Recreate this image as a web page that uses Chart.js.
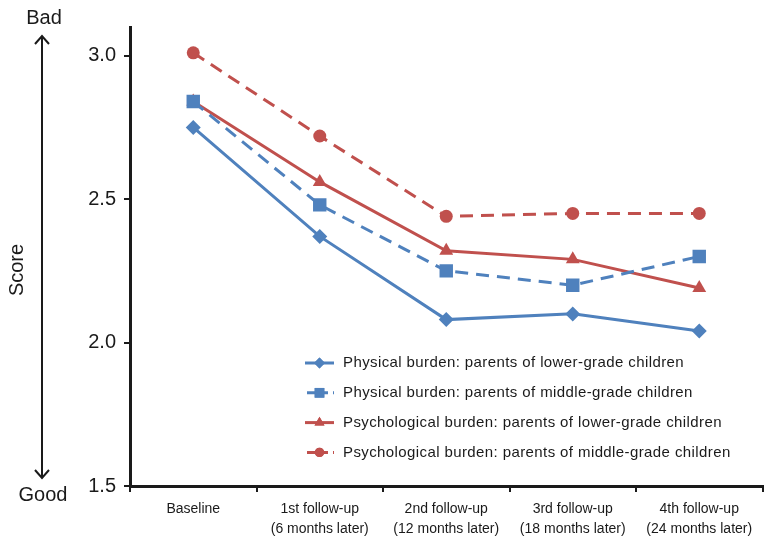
<!DOCTYPE html>
<html>
<head>
<meta charset="utf-8">
<script src="https://cdn.jsdelivr.net/npm/chart.js@4"></script>
<style>
  html, body { margin: 0; padding: 0; background: #fff; }
  #wrap { width: 772px; height: 540px; }
</style>
</head>
<body>
<div id="wrap"><canvas id="chart" width="772" height="540"></canvas></div>
<script>
// categories (x axis, two lines each)
var categories = [
    ["Baseline"],
    ["1st follow-up", "(6 months later)"],
    ["2nd follow-up", "(12 months later)"],
    ["3rd follow-up", "(18 months later)"],
    ["4th follow-up", "(24 months later)"]
];
var yTicks = [1.5, 2.0, 2.5, 3.0];

// series
var physLower = [2.75, 2.37, 2.08, 2.10, 2.04];
var physMiddle = [2.84, 2.48, 2.25, 2.20, 2.30];
var psyLower = [2.84, 2.56, 2.32, 2.29, 2.19];
var psyMiddle = [3.01, 2.72, 2.44, 2.45, 2.45];

var seriesNames = [
    "Physical burden: parents of lower-grade children",
    "Physical burden: parents of middle-grade children",
    "Psychological burden: parents of lower-grade children",
    "Psychological burden: parents of middle-grade children"
];

var BLUE = '#4F81BD';
var RED = '#C0504D';
var FONT = '"Liberation Sans", Arial, Helvetica, sans-serif';
var INK = '#1a1a1a';

function serie(label, data, color, dashed, style, r) {
    return {
        label: label,
        data: data,
        borderColor: color,
        backgroundColor: color,
        pointBackgroundColor: color,
        pointBorderColor: color,
        borderWidth: 3,
        borderDash: dashed ? [13, 8] : [],
        pointStyle: style,
        pointRadius: r,
        pointHoverRadius: r,
        pointBorderWidth: 0,
        tension: 0,
        fill: false
    };
}

// legend inside the plot, drawn from the datasets
var innerLegend = {
    id: 'innerLegend',
    afterDraw: function(chart) {
        var ctx = chart.ctx;
        var x0 = 305, y0 = 363, step = 29.8;
        ctx.save();
        chart.data.datasets.forEach(function(ds, i) {
            var y = y0 + i * step;
            ctx.strokeStyle = ds.borderColor;
            ctx.lineWidth = 3;
            ctx.setLineDash(ds.borderDash.length ? [8, 5] : []);
            ctx.lineDashOffset = ds.borderDash.length ? -2 : 0;
            ctx.beginPath();
            ctx.moveTo(x0, y);
            ctx.lineTo(x0 + 29, y);
            ctx.stroke();
            ctx.setLineDash([]);
            ctx.fillStyle = ds.borderColor;
            Chart.helpers.drawPoint(ctx, {
                pointStyle: ds.pointStyle,
                radius: ds.pointRadius * 0.72,
                borderWidth: 0,
                rotation: 0
            }, x0 + 14.5, y);
            ctx.fill();
            ctx.fillStyle = INK;
            ctx.font = '15px ' + FONT;
            ctx.letterSpacing = '0.4px';
            ctx.textAlign = 'left';
            ctx.textBaseline = 'middle';
            ctx.fillText(ds.label, x0 + 38, y);
            ctx.letterSpacing = '0px';
        });
        ctx.restore();
    }
};

// Bad / Good arrow and Score title on the left
var sideNotes = {
    id: 'sideNotes',
    afterDraw: function(chart) {
        var ctx = chart.ctx;
        ctx.save();
        ctx.fillStyle = INK;
        ctx.strokeStyle = INK;
        ctx.font = '20px ' + FONT;
        ctx.textAlign = 'center';
        ctx.textBaseline = 'middle';
        ctx.fillText('Bad', 44, 18);
        ctx.fillText('Good', 43, 495);

        var ax = 42, top = 36, bot = 478;
        ctx.lineWidth = 2;
        ctx.beginPath();
        ctx.moveTo(ax, top);
        ctx.lineTo(ax, bot);
        ctx.moveTo(ax - 7, top + 8);
        ctx.lineTo(ax, top);
        ctx.lineTo(ax + 7, top + 8);
        ctx.moveTo(ax - 7, bot - 8);
        ctx.lineTo(ax, bot);
        ctx.lineTo(ax + 7, bot - 8);
        ctx.stroke();

        ctx.translate(17, 270);
        ctx.rotate(-Math.PI / 2);
        ctx.fillText('Score', 0, 0);
        ctx.restore();
    }
};

var ctx = document.getElementById('chart').getContext('2d');
var myChart = new Chart(ctx, {
    type: 'line',
    data: {
        labels: categories,
        datasets: [
            serie(seriesNames[0], physLower, BLUE, false, 'rectRot', 7.5),
            serie(seriesNames[1], physMiddle, BLUE, true, 'rect', 9.5),
            serie(seriesNames[2], psyLower, RED, false, 'triangle', 8),
            serie(seriesNames[3], psyMiddle, RED, true, 'circle', 6.5)
        ]
    },
    options: {
        responsive: false,
        animation: false,
        layout: { padding: { top: 27, right: 1, left: 0, bottom: 0 } },
        plugins: {
            legend: { display: false },
            tooltip: { enabled: false }
        },
        scales: {
            x: {
                type: 'category',
                offset: true,
                grid: {
                    offset: true,
                    drawOnChartArea: false,
                    drawTicks: true,
                    tickLength: 6,
                    color: INK,
                    lineWidth: 2
                },
                border: { display: true, color: INK, width: 3 },
                ticks: {
                    color: INK,
                    font: { family: FONT, size: 14, lineHeight: '20px' },
                    padding: 7,
                    maxRotation: 0,
                    autoSkip: false
                },
                afterFit: function(s) { s.height = 54; }
            },
            y: {
                min: 1.5,
                max: 3.1,
                grid: {
                    drawOnChartArea: false,
                    drawTicks: true,
                    tickLength: 6,
                    color: INK,
                    lineWidth: 2
                },
                border: { display: true, color: INK, width: 3 },
                afterBuildTicks: function(s) {
                    s.ticks = yTicks.map(function(v) { return { value: v }; });
                },
                ticks: {
                    color: INK,
                    font: { family: FONT, size: 20 },
                    padding: 8,
                    callback: function(v) { return Number(v).toFixed(1); }
                },
                afterFit: function(s) { s.width = 130; }
            }
        }
    },
    plugins: [innerLegend, sideNotes]
});
</script>
</body>
</html>
